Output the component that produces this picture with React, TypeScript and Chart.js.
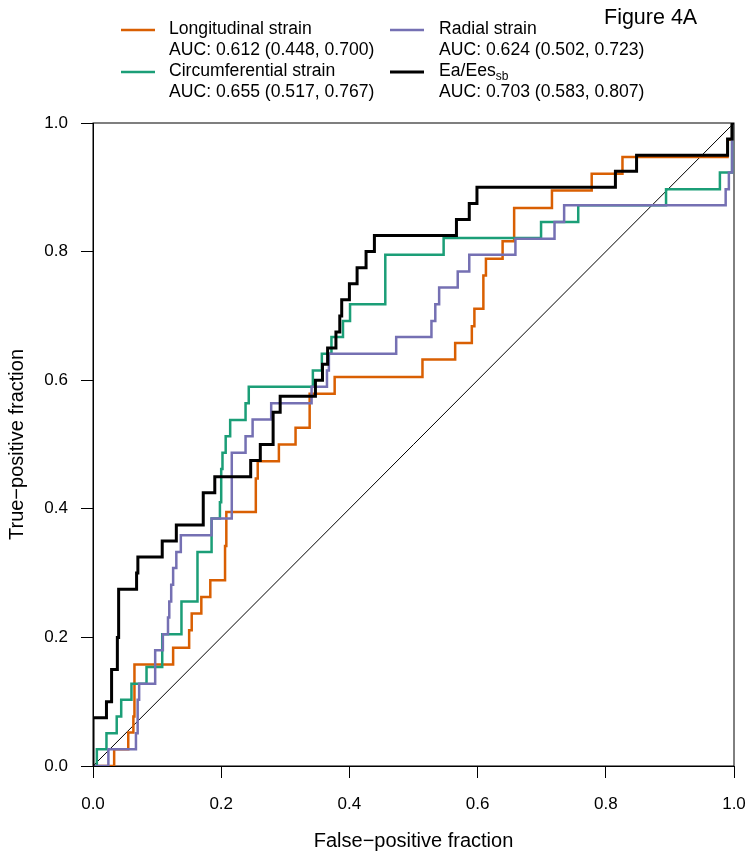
import React, { useEffect, useRef } from "react";
import { Chart, registerables } from "chart.js";

Chart.register(...registerables);

// ---------- data ----------
const seriesNames = ["Longitudinal strain", "Radial strain", "Circumferential strain", "Ea/Ees"];
const seriesSubscripts = ["", "", "", "sb"];
const seriesAUC = [
  "AUC: 0.612 (0.448, 0.700)",
  "AUC: 0.624 (0.502, 0.723)",
  "AUC: 0.655 (0.517, 0.767)",
  "AUC: 0.703 (0.583, 0.807)",
];
const seriesColors = ["#D95F02", "#7570B3", "#1B9E77", "#000000"];

const longitudinalFpr = [0, 0.033, 0.055, 0.063, 0.064, 0.065, 0.125, 0.150, 0.154, 0.169, 0.183, 0.206, 0.208, 0.254, 0.257, 0.290, 0.316, 0.338, 0.377, 0.514, 0.565, 0.591, 0.595, 0.609, 0.613, 0.639, 0.657, 0.716, 0.778, 0.826, 0.990, 0.997, 1];
const longitudinalTpr = [0, 0.026, 0.052, 0.077, 0.129, 0.158, 0.184, 0.211, 0.237, 0.263, 0.289, 0.342, 0.395, 0.447, 0.474, 0.500, 0.526, 0.579, 0.605, 0.632, 0.658, 0.684, 0.711, 0.763, 0.789, 0.816, 0.868, 0.895, 0.921, 0.947, 0.974, 1, 1];

const circumferentialFpr = [0, 0.006, 0.021, 0.037, 0.044, 0.060, 0.0835, 0.108, 0.138, 0.163, 0.185, 0.198, 0.200, 0.202, 0.207, 0.214, 0.238, 0.243, 0.343, 0.357, 0.372, 0.390, 0.401, 0.456, 0.547, 0.699, 0.757, 0.894, 0.978, 0.997, 1];
const circumferentialTpr = [0, 0.026, 0.051, 0.077, 0.103, 0.128, 0.154, 0.205, 0.256, 0.333, 0.385, 0.410, 0.462, 0.487, 0.513, 0.538, 0.564, 0.590, 0.615, 0.641, 0.667, 0.692, 0.718, 0.795, 0.821, 0.846, 0.872, 0.897, 0.923, 1, 1];

const radialFpr = [0, 0.024, 0.067, 0.069, 0.070, 0.072, 0.097, 0.109, 0.117, 0.119, 0.122, 0.125, 0.130, 0.137, 0.185, 0.2165, 0.238, 0.249, 0.278, 0.341, 0.365, 0.368, 0.473, 0.528, 0.534, 0.540, 0.569, 0.587, 0.659, 0.720, 0.735, 0.987, 0.992, 0.997, 1];
const radialTpr = [0, 0.026, 0.051, 0.077, 0.103, 0.128, 0.180, 0.205, 0.231, 0.256, 0.282, 0.308, 0.333, 0.359, 0.385, 0.487, 0.513, 0.539, 0.564, 0.590, 0.615, 0.641, 0.667, 0.692, 0.718, 0.744, 0.769, 0.795, 0.820, 0.846, 0.872, 0.897, 0.923, 1, 1];

const eaEesFpr = [0, 0, 0.021, 0.029, 0.038, 0.040, 0.068, 0.070, 0.108, 0.130, 0.172, 0.190, 0.246, 0.261, 0.281, 0.292, 0.347, 0.358, 0.366, 0.379, 0.385, 0.388, 0.400, 0.412, 0.426, 0.439, 0.567, 0.587, 0.599, 0.815, 0.848, 0.990, 0.997, 1];
const eaEesTpr = [0, 0.075, 0.1, 0.15, 0.2, 0.275, 0.3, 0.325, 0.35, 0.375, 0.425, 0.45, 0.475, 0.5, 0.55, 0.575, 0.6, 0.625, 0.65, 0.675, 0.7, 0.725, 0.75, 0.775, 0.8, 0.825, 0.85, 0.875, 0.9, 0.925, 0.95, 0.975, 1, 1];

const diagonalX = [0, 1];
const diagonalY = [0, 1];

const tickValues = [0, 0.2, 0.4, 0.6, 0.8, 1.0];
const tickLabels = ["0.0", "0.2", "0.4", "0.6", "0.8", "1.0"];

const xTitle = "False\u2212positive fraction";
const yTitle = "True\u2212positive fraction";
const figureLabel = "Figure 4A";

// ---------- helpers ----------
function stepPoints(fpr: number[], tpr: number[]) {
  const pts: { x: number; y: number }[] = [{ x: fpr[0], y: tpr[0] }];
  for (let i = 1; i < fpr.length; i++) {
    pts.push({ x: fpr[i], y: tpr[i - 1] });
    pts.push({ x: fpr[i], y: tpr[i] });
  }
  return pts;
}

const FONT = "'Liberation Sans', Arial, Helvetica, sans-serif";

const framePlugin = {
  id: "frame",
  beforeDatasetsDraw(chart: any) {
    const { ctx, chartArea } = chart;
    ctx.save();
    ctx.strokeStyle = "#000";
    ctx.lineWidth = 1;
    ctx.strokeRect(chartArea.left, chartArea.top, chartArea.right - chartArea.left, chartArea.bottom - chartArea.top);
    ctx.restore();
  },
};

const legendPlugin = {
  id: "customLegend",
  afterDraw(chart: any) {
    const ctx = chart.ctx;
    ctx.save();
    const colLineX = [121, 390];
    const colTextX = [169, 439];
    const rowY = [29, 71];
    const lineGap = 21;
    const slots = [
      [0, 0],
      [1, 0],
      [0, 1],
      [1, 1],
    ];
    for (let i = 0; i < seriesNames.length; i++) {
      const [c, r] = slots[i];
      const y = rowY[r];
      ctx.strokeStyle = seriesColors[i];
      ctx.lineWidth = i === 3 ? 3 : 2.5;
      ctx.beginPath();
      ctx.moveTo(colLineX[c], y + 1);
      ctx.lineTo(colLineX[c] + 34, y + 1);
      ctx.stroke();
      ctx.fillStyle = "#000";
      ctx.textBaseline = "middle";
      ctx.textAlign = "left";
      ctx.font = `17.6px ${FONT}`;
      ctx.fillText(seriesNames[i], colTextX[c], y);
      if (seriesSubscripts[i]) {
        const w = ctx.measureText(seriesNames[i]).width;
        ctx.font = `12px ${FONT}`;
        ctx.fillText(seriesSubscripts[i], colTextX[c] + w, y + 6);
        ctx.font = `17.6px ${FONT}`;
      }
      ctx.fillText(seriesAUC[i], colTextX[c], y + lineGap);
    }
    ctx.font = `21.5px ${FONT}`;
    ctx.textAlign = "left";
    ctx.textBaseline = "middle";
    ctx.fillText(figureLabel, 604, 18);
    ctx.restore();
  },
};

export default function App() {
  const canvasRef = useRef<HTMLCanvasElement | null>(null);

  useEffect(() => {
    if (!canvasRef.current) return;
    Chart.defaults.font.family = FONT;
    Chart.defaults.color = "#000";

    const series = [
      { fpr: eaEesFpr, tpr: eaEesTpr, color: seriesColors[3], width: 3, label: "Ea/Ees" },
      { fpr: radialFpr, tpr: radialTpr, color: seriesColors[1], width: 2.5, label: seriesNames[1] },
      { fpr: circumferentialFpr, tpr: circumferentialTpr, color: seriesColors[2], width: 2.5, label: seriesNames[2] },
      { fpr: longitudinalFpr, tpr: longitudinalTpr, color: seriesColors[0], width: 2.5, label: seriesNames[0] },
    ];

    const datasets: any[] = series.map((s) => ({
      label: s.label,
      data: stepPoints(s.fpr, s.tpr),
      borderColor: s.color,
      backgroundColor: s.color,
      borderWidth: s.width,
      pointRadius: 0,
      fill: false,
      tension: 0,
      borderJoinStyle: "miter",
      borderCapStyle: "butt",
    }));
    datasets.push({
      label: "reference",
      data: diagonalX.map((x, i) => ({ x, y: diagonalY[i] })),
      borderColor: "#000",
      borderWidth: 1,
      pointRadius: 0,
      fill: false,
      tension: 0,
    });

    const axisCommon = (title: string, isX: boolean) => ({
      type: "linear",
      min: 0,
      max: 1,
      afterBuildTicks: (scale: any) => {
        scale.ticks = tickValues.map((v) => ({ value: v }));
      },
      afterFit: (scale: any) => {
        if (isX) scale.height = 97;
        else scale.width = 93;
        scale.paddingLeft = 0;
        scale.paddingRight = 0;
        scale.paddingTop = 0;
        scale.paddingBottom = 0;
      },
      ticks: {
        callback: (v: any) => {
          const idx = tickValues.findIndex((t) => Math.abs(t - Number(v)) < 1e-9);
          return idx >= 0 ? tickLabels[idx] : "";
        },
        font: { size: 17 },
        color: "#000",
        padding: isX ? 16 : 13,
        maxRotation: 0,
        minRotation: 0,
        autoSkip: false,
      },
      grid: {
        drawOnChartArea: false,
        drawTicks: true,
        tickLength: 12,
        color: "#000",
        lineWidth: 1,
      },
      border: { display: true, color: "#000", width: 1 },
      title: {
        display: true,
        text: title,
        color: "#000",
        font: { size: 20 },
        padding: isX ? { top: 0, bottom: 10 } : { top: 5, bottom: 0 },
      },
    });

    const chart = new Chart(canvasRef.current, {
      type: "line",
      data: { datasets },
      options: {
        responsive: false,
        animation: false,
        devicePixelRatio: 1,
        layout: { padding: { top: 123, right: 20, left: 0, bottom: 0 } },
        plugins: { legend: { display: false }, tooltip: { enabled: false } },
        scales: {
          x: axisCommon(xTitle, true) as any,
          y: axisCommon(yTitle, false) as any,
        },
      },
      plugins: [framePlugin, legendPlugin],
    } as any);

    return () => chart.destroy();
  }, []);

  return (
    <div style={{ position: "absolute", left: 0, top: 0, width: 754, height: 863, background: "#fff" }}>
      <canvas ref={canvasRef} width={754} height={863} style={{ display: "block", width: 754, height: 863 }} />
    </div>
  );
}
